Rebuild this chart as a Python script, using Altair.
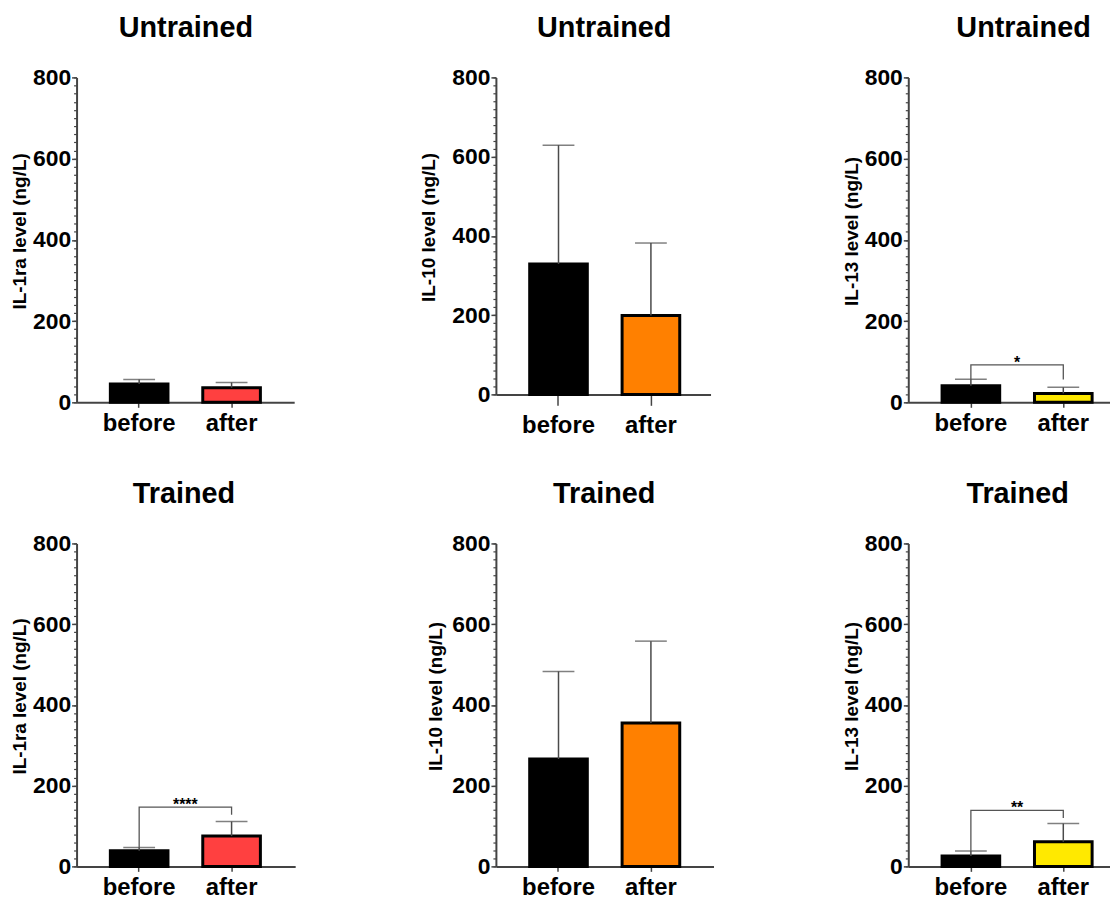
import altair as alt
import pandas as pd

# ---------------- data ----------------
groups = ["Untrained", "Trained"]
cytokines = ["IL-1ra", "IL-10", "IL-13"]
conditions = ["before", "after"]

# mean values [before, after] per cytokine (IL-1ra, IL-10, IL-13)
untrained_mean = [[45, 36], [329, 199], [41, 22]]
trained_mean = [[39, 75], [266, 355], [26, 61]]
# upper error (SD) [before, after]
untrained_sd = [[11, 13], [300, 183], [16, 15]]
trained_sd = [[8, 36], [217, 203], [12, 45]]

# significance brackets
sig_group = ["Untrained", "Trained", "Trained"]
sig_cytokine = ["IL-13", "IL-1ra", "IL-13"]
sig_level = [92, 147, 139]
sig_left_end = [57, 45, 38]
sig_right_end = [56, 128, 120]
sig_label = ["*", "****", "**"]

y_major = [0, 200, 400, 600, 800]
y_minor = list(range(0, 801, 20))

# ---------------- styling / layout ----------------
FONT = "Liberation Sans"
BEFORE_COLOR = "#000000"
AFTER_COLORS = ["#FF4040", "#FF8000", "#FFE900"]
ERR_COLOR = "#4a4a4a"
AXIS_COLOR = "#444444"

SLOT_W = [[422, 408, 203], [415, 415, 203]]
AXIS_LEN = [[219, 216, 203], [220, 219, 203]]
HEIGHTS = [[327, 319, 327], [325, 325, 325]]
TITLE_DX = [[110, 109, 116], [108, 109, 110]]
YTITLE_X = [[-57, -68, -57], [-57, -61, -57]]
XTICK = [[5, 11, 5], [5, 5, 5]]
XLABPAD = [[4, 8, 4], [4, 4, 4]]
STEP, BANDW, FIRST_CENTER = 93.0, 58.0, 63.0

means_all = [untrained_mean, trained_mean]
sds_all = [untrained_sd, trained_sd]


def make_panel(gi, ci):
    group, cyt = groups[gi], cytokines[ci]
    means = means_all[gi][ci]
    sds = sds_all[gi][ci]
    L, H, W = AXIS_LEN[gi][ci], HEIGHTS[gi][ci], SLOT_W[gi][ci]
    pin = 1 - BANDW / STEP
    pout = (L / STEP - 2 + pin) / 2
    al = ((FIRST_CENTER - BANDW / 2) / (2 * STEP)) / pout

    df = pd.DataFrame({
        "condition": conditions,
        "mean": means,
        "top": [m + s for m, s in zip(means, sds)],
        "fill": [BEFORE_COLOR, AFTER_COLORS[ci]],
    })

    xscale = alt.Scale(type="band", domain=conditions, range=[0, L],
                       paddingInner=pin, paddingOuter=pout, align=al)
    yscale = alt.Scale(domain=[0, 800], nice=False, zero=True)

    xaxis = alt.Axis(title=None, labelAngle=0, labelFont=FONT, labelFontSize=24,
                     labelFontWeight="bold", labelColor="black",
                     tickSize=XTICK[gi][ci], tickColor=AXIS_COLOR, tickWidth=1.5,
                     domainColor=AXIS_COLOR, domainWidth=2,
                     labelPadding=XLABPAD[gi][ci], grid=False)
    yaxis_major = alt.Axis(
        orient="left", values=y_major, tickSize=5,
        tickColor=AXIS_COLOR, tickWidth=1.5, domainColor=AXIS_COLOR, domainWidth=2,
        labelFont=FONT, labelFontSize=23, labelFontWeight="bold", labelColor="black",
        labelPadding=1, labelFlush=False, labelOverlap=False, grid=False,
        title=f"{cyt} level (ng/L)", titleFont=FONT, titleFontSize=19,
        titleFontWeight="bold", titleColor="black",
        titleX=YTITLE_X[gi][ci], titleY=H / 2 - 9, titleAngle=270,
        titleAlign="center", titleBaseline="middle",
    )
    yaxis_minor = alt.Axis(
        orient="left", values=y_minor, tickSize=3, tickColor=AXIS_COLOR,
        tickWidth=1.2, labels=False, domain=False, grid=False, title=None,
    )
    xenc = alt.X("condition:N", sort=conditions, scale=xscale)

    base = alt.Chart(df)
    bars = base.mark_bar(stroke="black", strokeWidth=3).encode(
        x=alt.X("condition:N", sort=conditions, scale=xscale, axis=xaxis),
        y=alt.Y("mean:Q", scale=yscale, axis=yaxis_major),
        fill=alt.Fill("fill:N", scale=None),
    )
    err = base.mark_rule(color=ERR_COLOR, strokeWidth=1.5).encode(
        x=xenc,
        y=alt.Y("mean:Q", scale=yscale, axis=yaxis_minor),
        y2="top:Q",
    )
    cap = base.mark_tick(color=ERR_COLOR, thickness=1.5, size=32).encode(
        x=xenc,
        y=alt.Y("top:Q", scale=yscale, axis=None),
    )
    layers = [bars, err, cap]

    for k in range(len(sig_label)):
        if sig_group[k] == group and sig_cytokine[k] == cyt:
            bdf = pd.DataFrame({
                "condition": ["before", "before", "after", "after"],
                "val": [sig_left_end[k], sig_level[k], sig_level[k], sig_right_end[k]],
                "ord": [0, 1, 2, 3],
            })
            bracket = alt.Chart(bdf).mark_line(color="#555555", strokeWidth=1.3).encode(
                x=xenc,
                y=alt.Y("val:Q", scale=yscale, axis=None),
                order="ord:Q",
            )
            tdf = pd.DataFrame({"condition": ["before"], "val": [sig_level[k]],
                                "lab": [sig_label[k]]})
            star = alt.Chart(tdf).mark_text(
                dx=STEP / 2, dy=3, align="center", baseline="alphabetic",
                font=FONT, fontSize=16, fontWeight="bold", color="black",
            ).encode(
                x=xenc,
                y=alt.Y("val:Q", scale=yscale, axis=None),
                text="lab:N",
            )
            layers += [bracket, star]

    return alt.layer(*layers).resolve_axis(y="independent").properties(
        width=W, height=H,
        title=alt.TitleParams(
            text=group, anchor="start", align="center", dx=TITLE_DX[gi][ci],
            offset=0, dy=-1, baseline="alphabetic", frame="group",
            font=FONT, fontSize=29, fontWeight="bold", color="black",
        ),
    )


panels = [make_panel(gi, ci) for gi in range(2) for ci in range(3)]

chart = alt.concat(
    *panels, columns=3,
    spacing={"row": 142, "column": 0},
    bounds="flush",
    align={"row": "all", "column": "none"},
).properties(
    padding={"left": 3, "top": 3, "right": 0, "bottom": 0},
).configure_view(stroke=None)

chart.save("out.html", embed_options={"renderer": "svg", "actions": False})
